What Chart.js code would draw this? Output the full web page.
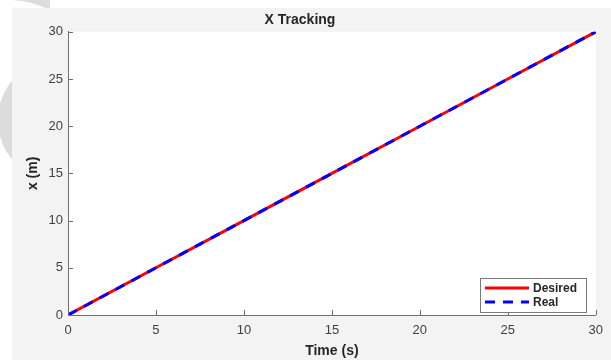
<!DOCTYPE html>
<html>
<head>
<meta charset="utf-8">
<script src="https://cdn.jsdelivr.net/npm/chart.js@4.4.1/dist/chart.umd.min.js"></script>
<style>
  html, body { margin: 0; padding: 0; background: #fff; }
  #wrap { width: 611px; height: 360px; position: relative; }
</style>
</head>
<body>
<div id="wrap"><canvas id="xChart"></canvas></div>
<script>
// ===== DATA =====
const tiempo = [0, 5, 10, 15, 20, 25, 30];
const deseado = [0, 5, 10, 15, 20, 25, 30];
const real = [0, 5, 10, 15, 20, 25, 30];
const yTicks = [0, 5, 10, 15, 20, 25, 30];
const xTicks = [0, 5, 10, 15, 20, 25, 30];

const puntos = (xs, ys) => xs.map((x, i) => ({ x: x, y: ys[i] }));

const textColor = '#404040';
const axisColor = '#6e6e6e';
const fuente = '"Liberation Sans", Arial, sans-serif';

// fondo estilo figura matlab
const fondo = {
    id: 'fondo',
    beforeDraw(chart) {
        const ctx = chart.ctx;
        const a = chart.chartArea;
        ctx.save();
        ctx.fillStyle = '#ffffff';
        ctx.fillRect(0, 0, chart.width, chart.height);
        // marca de agua (esquina superior izquierda)
        ctx.fillStyle = '#dcdcdc';
        ctx.strokeStyle = '#dcdcdc';
        ctx.beginPath();
        ctx.moveTo(12, 0);
        ctx.quadraticCurveTo(32, 1, 50, 10);
        ctx.lineTo(50, 0);
        ctx.closePath();
        ctx.fill();
        ctx.lineWidth = 14;
        ctx.beginPath();
        ctx.arc(60, 120, 55, 0, Math.PI * 2);
        ctx.stroke();
        ctx.fillStyle = '#f3f3f3';
        ctx.fillRect(12, 8, chart.width - 12, chart.height - 8);
        ctx.fillStyle = '#ffffff';
        ctx.fillRect(a.left, a.top, a.right - a.left, a.bottom - a.top);
        ctx.restore();
    }
};

// ticks hacia adentro y leyenda
const extras = {
    id: 'extras',
    afterDraw(chart) {
        const ctx = chart.ctx;
        const a = chart.chartArea;
        const xs = chart.scales.x, ys = chart.scales.y;
        ctx.save();
        ctx.strokeStyle = axisColor;
        ctx.lineWidth = 1;
        ctx.beginPath();
        xTicks.forEach(v => {
            const px = Math.round(xs.getPixelForValue(v)) + 0.5;
            ctx.moveTo(px, a.bottom);
            ctx.lineTo(px, a.bottom - 5);
        });
        yTicks.forEach(v => {
            const py = Math.round(ys.getPixelForValue(v)) + 0.5;
            ctx.moveTo(a.left, py);
            ctx.lineTo(a.left + 5, py);
        });
        ctx.stroke();

        // leyenda
        const bx = 480, by = 278, bw = 106, bh = 34;
        ctx.fillStyle = '#ffffff';
        ctx.fillRect(bx, by, bw, bh);
        ctx.strokeStyle = '#7a7a7a';
        ctx.strokeRect(bx + 0.5, by + 0.5, bw, bh);
        ctx.font = 'bold 12px ' + fuente;
        ctx.textBaseline = 'middle';
        ctx.fillStyle = '#262626';
        chart.data.datasets.forEach((ds, i) => {
            const ly = by + 10 + i * 14;
            ctx.strokeStyle = ds.borderColor;
            ctx.lineWidth = 3;
            ctx.setLineDash(ds.borderDash || []);
            ctx.beginPath();
            ctx.moveTo(bx + 5, ly);
            ctx.lineTo(bx + 49, ly);
            ctx.stroke();
            ctx.setLineDash([]);
            ctx.fillText(ds.label, bx + 53, ly + 1);
        });
        ctx.restore();
    }
};

new Chart(document.getElementById('xChart'), {
    type: 'line',
    data: {
        datasets: [{
            label: 'Desired',
            data: puntos(tiempo, deseado),
            borderColor: '#ff0000',
            borderWidth: 3,
            pointRadius: 0,
            fill: false,
            order: 2
        }, {
            label: 'Real',
            data: puntos(tiempo, real),
            borderColor: '#0000ff',
            borderWidth: 3,
            borderDash: [10, 8],
            pointRadius: 0,
            fill: false,
            order: 1
        }]
    },
    plugins: [fondo, extras],
    options: {
        responsive: true,
        maintainAspectRatio: false,
        animation: false,
        layout: { padding: { left: 0, right: 11, top: 0, bottom: 0 } },
        plugins: {
            title: {
                display: true,
                text: 'X Tracking',
                color: '#262626',
                font: { size: 14, weight: 'bold', family: fuente },
                padding: { top: 12, bottom: 3 }
            },
            legend: { display: false },
            tooltip: { enabled: false }
        },
        scales: {
            x: {
                type: 'linear',
                min: 0,
                max: 30,
                afterBuildTicks: s => { s.ticks = xTicks.map(v => ({ value: v })); },
                afterFit: s => { s.height = 45; },
                grid: { display: false, drawTicks: false },
                border: { display: true, color: axisColor, width: 1 },
                ticks: {
                    color: textColor,
                    padding: 8,
                    maxRotation: 0,
                    font: { size: 13, family: fuente }
                },
                title: {
                    display: true,
                    text: 'Time (s)',
                    color: '#262626',
                    padding: { top: 2, bottom: 0 },
                    font: { size: 14, weight: 'bold', family: fuente }
                }
            },
            y: {
                min: 0,
                max: 30,
                afterBuildTicks: s => { s.ticks = yTicks.map(v => ({ value: v })); },
                afterFit: s => { s.width = 68; },
                grid: { display: false, drawTicks: false },
                border: { display: true, color: axisColor, width: 1 },
                ticks: {
                    color: textColor,
                    padding: 5,
                    font: { size: 13, family: fuente }
                },
                title: {
                    display: true,
                    text: 'x (m)',
                    color: '#262626',
                    padding: { top: 25, bottom: 0 },
                    font: { size: 14, weight: 'bold', family: fuente }
                }
            }
        }
    }
});
</script>
</body>
</html>
